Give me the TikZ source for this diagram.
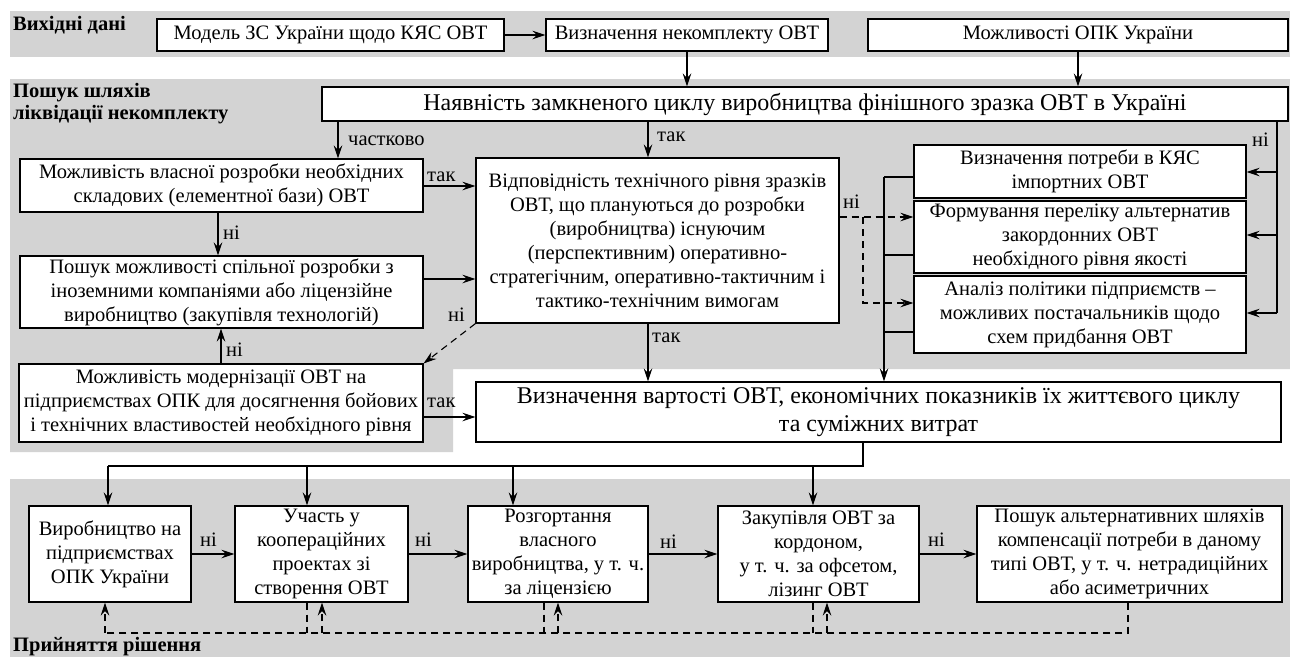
\documentclass[tikz,border=0pt]{standalone}
\usepackage{fontspec}
\setmainfont{Liberation Serif}
\usetikzlibrary{arrows.meta}
\definecolor{bandgray}{RGB}{211,211,211}
\tikzset{
  box/.style={draw, line width=1.1pt, fill=white, align=center, inner sep=0pt, font=\fontsize{20.5}{24}\selectfont},
  bigbox/.style={box, font=\fontsize{24}{28}\selectfont},
  ln/.style={line width=1.1pt},
  arr/.style={line width=1.1pt, -{Stealth[length=13pt,width=8.5pt,inset=4.5pt]}},
  dsh/.style={line width=1.1pt, dash pattern=on 7pt off 5pt},
  darr/.style={dsh, -{Stealth[length=13pt,width=8.5pt,inset=4.5pt]}},
  lab/.style={font=\fontsize{20.5}{24}\selectfont, inner sep=0pt, anchor=west},
  ttl/.style={font=\fontsize{20.5}{22}\selectfont\bfseries, inner sep=0pt, anchor=west, align=left},
}
\begin{document}
\begin{tikzpicture}[x=1pt,y=-1pt]
\useasboundingbox (0,0) rectangle (1290,657);
% bands
\fill[bandgray] (10,11) rectangle (1290,57);
\fill[bandgray] (10,79) -- (1290,79) -- (1290,369) -- (453,369) -- (453,452) -- (10,452) -- cycle;
\fill[bandgray] (10,479) rectangle (1290,657);
% titles
\node[ttl] (t1) at (13,25) {Вихідні дані};
\node[ttl] (t2) at (13,104) {Пошук шляхів\\ліквідації некомплекту};
\node[ttl] (t3) at (13,647) {Прийняття рішення};
% top row
\node[box, minimum width=347pt, minimum height=32pt] (model) at (330.5,35) {Модель ЗС України щодо КЯС ОВТ};
\node[box, minimum width=282pt, minimum height=32pt] (nekompl) at (687,35) {Визначення некомплекту ОВТ};
\node[box, minimum width=420pt, minimum height=32pt] (opk) at (1078,35) {Можливості ОПК України};
% middle
\node[bigbox, minimum width=966pt, minimum height=34pt] (nayav) at (805,104) {Наявність замкненого циклу виробництва фінішного зразка ОВТ в Україні};
\node[box, minimum width=403pt, minimum height=53pt] (vlasn) at (221.5,185.5) {Можливість власної розробки необхідних\\складових (елементної бази) ОВТ};
\node[box, minimum width=403pt, minimum height=72pt] (spiln) at (221.5,292) {Пошук можливості спільної розробки з\\іноземними компаніями або ліцензійне\\виробництво (закупівля технологій)};
\node[box, minimum width=404pt, minimum height=78pt] (modern) at (221,403) {Можливість модернізації ОВТ на\\підприємствах ОПК для досягнення бойових\\і технічних властивостей необхідного рівня};
\node[box, minimum width=363pt, minimum height=165pt] (vidpov) at (657.5,240.5) {Відповідність технічного рівня зразків\\ОВТ, що плануються до розробки\\(виробництва) існуючим\\(перспективним) оперативно-\\стратегічним, оперативно-тактичним і\\тактико-технічним вимогам};
\node[box, minimum width=332pt, minimum height=53pt] (potreb) at (1080,171.5) {Визначення потреби в КЯС\\імпортних ОВТ};
\node[box, minimum width=332pt, minimum height=72pt] (format) at (1080,237) {Формування переліку альтернатив\\закордонних ОВТ\\необхідного рівня якості};
\node[box, minimum width=332pt, minimum height=77pt] (analiz) at (1080,314.5) {Аналіз політики підприємств –\\можливих постачальників щодо\\схем придбання ОВТ};
\node[bigbox, minimum width=805pt, minimum height=60pt] (vartist) at (878.5,412) {Визначення вартості ОВТ, економічних показників їх життєвого циклу\\та суміжних витрат};
% bottom row
\node[box, minimum width=162pt, minimum height=96pt] (b1) at (110,554) {Виробництво на\\підприємствах\\ОПК України};
\node[box, minimum width=173pt, minimum height=96pt] (b2) at (321.5,554) {Участь у\\коопераційних\\проектах зі\\створення ОВТ};
\node[box, minimum width=180pt, minimum height=96pt] (b3) at (558,554) {Розгортання\\власного\\виробництва, у т. ч.\\за ліцензією};
\node[box, minimum width=201pt, minimum height=96pt] (b4) at (818.5,554) {Закупівля ОВТ за\\кордоном,\\у т. ч. за офсетом,\\лізинг ОВТ};
\node[box, minimum width=305pt, minimum height=96pt] (b5) at (1129.5,554) {Пошук альтернативних шляхів\\компенсації потреби в даному\\типі ОВТ, у т. ч. нетрадиційних\\або асиметричних};
% coordinates
\coordinate (xa) at (338,0);
\coordinate (xb) at (648,0);
\coordinate (xc) at (218,0);
\coordinate (xn) at (1277,0);
\coordinate (r1) at (1277,172);
\coordinate (r2) at (1277,235);
\coordinate (r3) at (1277,313);
\coordinate (ya) at (0,186);
\coordinate (yb) at (0,279);
\coordinate (yc) at (0,417);
\coordinate (dj) at (863,217);
\coordinate (dk) at (863,303);
\coordinate (v1) at (884,177);
\coordinate (v2) at (884,255);
\coordinate (v3) at (884,332);
\coordinate (h0) at (863,466);
\coordinate (h1) at (108,466);
\coordinate (h2) at (307,466);
\coordinate (h3) at (513,466);
\coordinate (h4) at (813,466);
\coordinate (q1) at (105,633);
\coordinate (q5) at (1128,633);
\coordinate (o2) at (307,633);
\coordinate (o3) at (544,633);
\coordinate (o4) at (813,633);
\coordinate (i2) at (322,633);
\coordinate (i3) at (558,633);
\coordinate (i4) at (827,633);
% connectors top
\draw[arr] (model) -- (nekompl);
\draw[arr] (nekompl.south) -- (nekompl.south |- nayav.north);
\draw[arr] (opk.south) -- (opk.south |- nayav.north);
\draw[arr] (xa |- nayav.south) -- (xa |- vlasn.north);
\draw[arr] (xb |- nayav.south) -- (xb |- vidpov.north);
\draw[ln] (xn |- nayav.south) -- (r3);
\draw[arr] (r1) -- (r1 -| potreb.east);
\draw[arr] (r2) -- (r2 -| format.east);
\draw[arr] (r3) -- (r3 -| analiz.east);
% left column
\draw[arr] (ya -| vlasn.east) -- (ya -| vidpov.west);
\draw[arr] (yb -| spiln.east) -- (yb -| vidpov.west);
\draw[arr] (xc |- vlasn.south) -- (xc |- spiln.north);
\draw[arr] (modern.north) -- (modern.north |- spiln.south);
\draw[arr] (yc -| modern.east) -- (yc -| vartist.west);
\draw[darr] (vidpov.south west) -- (modern.north east);
\draw[arr] (xb |- vidpov.south) -- (xb |- vartist.north);
% right part
\draw[darr] (dj -| vidpov.east) -- (dj -| format.west);
\draw[darr] (dj) -- (dk) -- (dk -| analiz.west);
\draw[ln] (v1 -| potreb.west) -- (v1);
\draw[ln] (v2 -| format.west) -- (v2);
\draw[ln] (v3 -| analiz.west) -- (v3);
\draw[arr] (v1) -- (v1 |- vartist.north);
% to bottom row
\draw[ln] (h0 |- vartist.south) -- (h0) -- (h1);
\draw[arr] (h1) -- (h1 |- b1.north);
\draw[arr] (h2) -- (h2 |- b2.north);
\draw[arr] (h3) -- (h3 |- b3.north);
\draw[arr] (h4) -- (h4 |- b4.north);
\draw[arr] (b1) -- (b2);
\draw[arr] (b2) -- (b3);
\draw[arr] (b3) -- (b4);
\draw[arr] (b4) -- (b5);
% feedback bus
\draw[dsh] (q5 |- b5.south) -- (q5) -- (q1);
\draw[darr] (q1) -- (q1 |- b1.south);
\draw[dsh] (o2 |- b2.south) -- (o2);
\draw[dsh] (o3 |- b3.south) -- (o3);
\draw[dsh] (o4 |- b4.south) -- (o4);
\draw[darr] (i2) -- (i2 |- b2.south);
\draw[darr] (i3) -- (i3 |- b3.south);
\draw[darr] (i4) -- (i4 |- b4.south);
% labels
\node[lab] (l1) at (348,141) {частково};
\node[lab] (l2) at (657,137) {так};
\node[lab] (l3) at (1252,140) {ні};
\node[lab] (l4) at (427,177) {так};
\node[lab] (l5) at (223,233) {ні};
\node[lab] (l6) at (226,350) {ні};
\node[lab] (l7) at (448,315) {ні};
\node[lab] (l8) at (427,403) {так};
\node[lab] (l9) at (652,338) {так};
\node[lab] (l10) at (843,202) {ні};
\node[lab] (l11) at (200,540) {ні};
\node[lab] (l12) at (415,540) {ні};
\node[lab] (l13) at (660,542) {ні};
\node[lab] (l14) at (928,540) {ні};
\end{tikzpicture}
\end{document}
